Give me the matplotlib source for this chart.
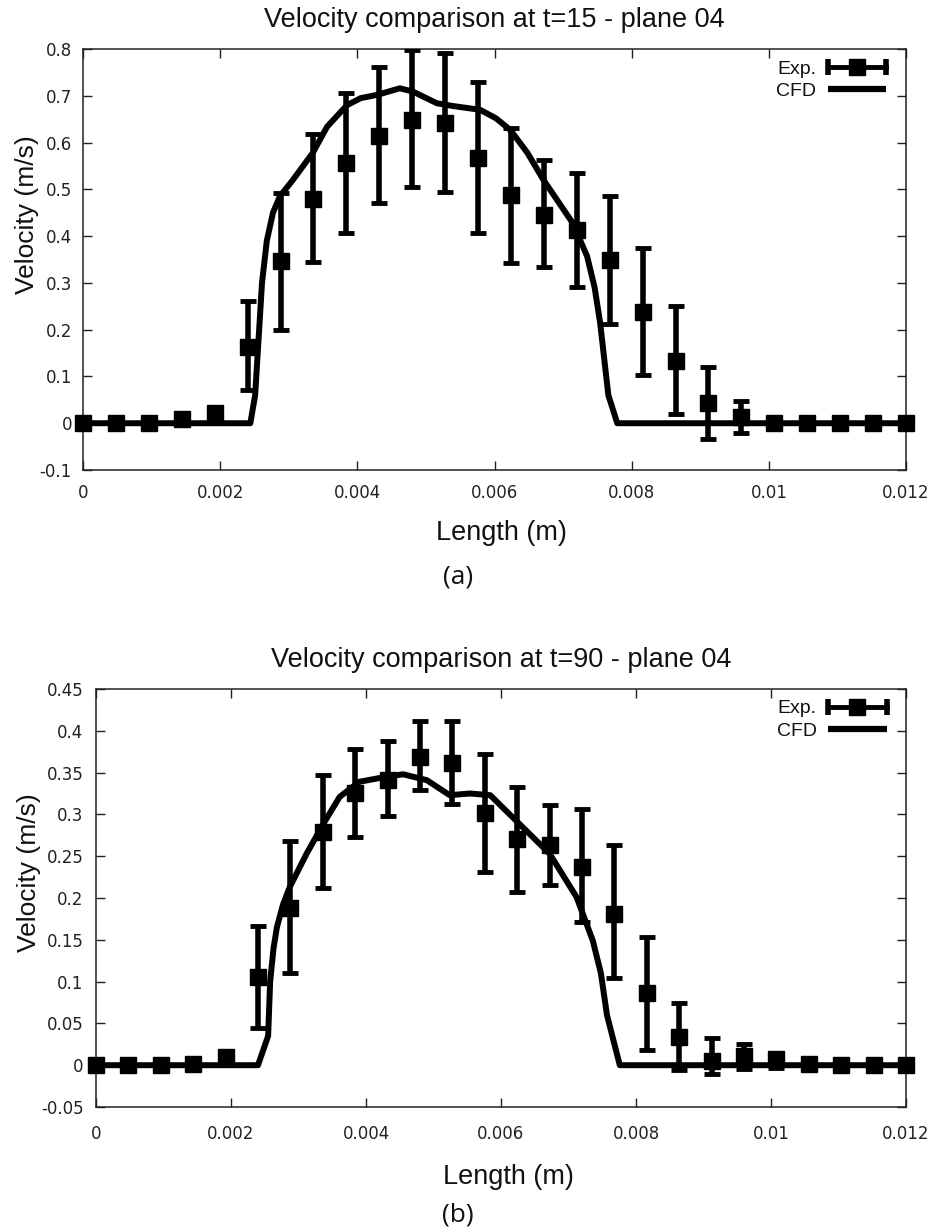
import matplotlib
matplotlib.use("Agg")
import matplotlib.pyplot as plt
import numpy as np
from matplotlib.lines import Line2D
from matplotlib.legend_handler import HandlerLine2D, HandlerTuple

# ---------------- data ----------------
length = [0, 0.00048, 0.00096, 0.00144, 0.00192, 0.0024, 0.00288, 0.00336,
          0.00384, 0.00432, 0.0048, 0.00528, 0.00576, 0.00624, 0.00672,
          0.0072, 0.00768, 0.00816, 0.00864, 0.00912, 0.0096, 0.01008,
          0.01056, 0.01104, 0.01152, 0.012]

# t = 15 experiment
exp15 = [0, 0, 0, 0.008, 0.022, 0.162, 0.347, 0.48, 0.556, 0.615, 0.649,
         0.642, 0.568, 0.487, 0.446, 0.414, 0.348, 0.238, 0.134, 0.043,
         0.013, 0, 0, 0, 0, 0]
exp15_hi = [0, 0, 0, 0.008, 0.022, 0.261, 0.492, 0.619, 0.705, 0.762, 0.798,
            0.792, 0.729, 0.632, 0.563, 0.535, 0.485, 0.375, 0.251, 0.121,
            0.048, 0, 0, 0, 0, 0]
exp15_lo = [0, 0, 0, 0.008, 0.022, 0.07, 0.20, 0.345, 0.407, 0.47, 0.504,
            0.494, 0.407, 0.343, 0.333, 0.292, 0.212, 0.103, 0.02, -0.033,
            -0.02, 0, 0, 0, 0, 0]

# t = 15 CFD
cfd15_x = [0, 0.00244, 0.00251, 0.00256, 0.00261, 0.00268, 0.00277, 0.00287,
           0.00306, 0.00335, 0.00356, 0.00385, 0.00405, 0.00429, 0.00462,
           0.00481, 0.00516, 0.0054, 0.00579, 0.00602, 0.00623, 0.00648,
           0.00671, 0.00714, 0.00735, 0.00746, 0.00754, 0.00766, 0.00779,
           0.012]
cfd15_v = [0, 0, 0.06, 0.18, 0.30, 0.39, 0.45, 0.485, 0.52, 0.578, 0.634,
           0.68, 0.695, 0.702, 0.716, 0.709, 0.684, 0.678, 0.67, 0.652,
           0.627, 0.578, 0.521, 0.428, 0.357, 0.29, 0.215, 0.06, 0, 0]

# t = 90 experiment
exp90 = [0, 0, 0, 0.002, 0.01, 0.105, 0.188, 0.279, 0.326, 0.341, 0.369,
         0.361, 0.302, 0.27, 0.263, 0.237, 0.181, 0.086, 0.034, 0.005,
         0.011, 0.007, 0.001, 0, 0, 0]
exp90_hi = [0, 0, 0, 0.002, 0.01, 0.167, 0.268, 0.347, 0.378, 0.388, 0.412,
            0.412, 0.372, 0.333, 0.311, 0.307, 0.263, 0.153, 0.074, 0.033,
            0.025, 0.014, 0.001, 0, 0, 0]
exp90_lo = [0, 0, 0, 0.002, 0.01, 0.045, 0.11, 0.212, 0.273, 0.298, 0.329,
            0.313, 0.231, 0.207, 0.215, 0.171, 0.104, 0.018, -0.006, -0.01,
            -0.004, -0.003, 0.001, 0, 0, 0]

# t = 90 CFD
cfd90_x = [0, 0.0024, 0.00255, 0.00258, 0.00263, 0.00268, 0.00277, 0.00287,
           0.00312, 0.00337, 0.00361, 0.0039, 0.0043, 0.00455, 0.0049,
           0.00524, 0.00554, 0.00584, 0.00623, 0.00672, 0.00712, 0.00736,
           0.00748, 0.00757, 0.00776, 0.012]
cfd90_v = [0, 0, 0.035, 0.1, 0.14, 0.165, 0.192, 0.213, 0.253, 0.289, 0.321,
           0.339, 0.345, 0.348, 0.341, 0.323, 0.325, 0.323, 0.292, 0.253,
           0.201, 0.149, 0.11, 0.06, 0, 0]

xticks = [0, 0.002, 0.004, 0.006, 0.008, 0.01, 0.012]
xtick_labels = ["0", "0.002", "0.004", "0.006", "0.008", "0.01", "0.012"]
yticks15 = [-0.1, 0, 0.1, 0.2, 0.3, 0.4, 0.5, 0.6, 0.7, 0.8]
ytick15_labels = ["-0.1", "0", "0.1", "0.2", "0.3", "0.4", "0.5", "0.6", "0.7", "0.8"]
yticks90 = [-0.05, 0, 0.05, 0.1, 0.15, 0.2, 0.25, 0.3, 0.35, 0.4, 0.45]
ytick90_labels = ["-0.05", "0", "0.05", "0.1", "0.15", "0.2", "0.25", "0.3",
                  "0.35", "0.4", "0.45"]

titles = ["Velocity comparison at t=15 - plane 04",
          "Velocity comparison at t=90 - plane 04"]
captions = ["(a)", "(b)"]

# ---------------- drawing ----------------
W, H = 934, 1232
fig = plt.figure(figsize=(W / 100, H / 100), dpi=100)
fig.patch.set_facecolor("white")

ax1 = fig.add_axes([83 / W, 1 - 470 / H, 823 / W, 421 / H])
ax2 = fig.add_axes([96 / W, 1 - 1107 / H, 810 / W, 418 / H])

LABEL_FONT = "Liberation Sans"


def draw(ax, exp, hi, lo, cx, cv, yticks, ylabels, title, ylim,
         xpad, ypad, ylab_xy, xlab_xy):
    x = np.array(length)
    v = np.array(exp)
    h = np.array(hi)
    l = np.array(lo)
    m = (h - l) > 1e-9
    ax.errorbar(x[m], v[m], yerr=[v[m] - l[m], h[m] - v[m]], fmt="none",
                ecolor="black", elinewidth=4, capsize=6, capthick=3.5,
                zorder=3)
    ax.plot(x, v, "s", color="black", ms=11.5, clip_on=False, zorder=4)
    ax.plot(cx, cv, "-", color="black", lw=4.3, solid_joinstyle="round",
            solid_capstyle="butt", zorder=5)

    ax.set_xlim(0, 0.012)
    ax.set_ylim(*ylim)
    ax.set_xticks(xticks)
    ax.set_xticklabels(xtick_labels)
    ax.set_yticks(yticks)
    ax.set_yticklabels(ylabels)
    ax.tick_params(axis="both", direction="in", length=6.5, width=1,
                   top=True, right=True, labelsize=12, colors="#222222",
                   labelfontfamily="DejaVu Sans")
    ax.tick_params(axis="x", pad=xpad)
    ax.tick_params(axis="y", pad=ypad)
    for s in ax.spines.values():
        s.set_linewidth(1.1)
        s.set_color("#222222")

    ax.set_title(title, fontsize=19.5, family=LABEL_FONT, pad=16,
                 color="#111111")
    ax.set_ylabel("Velocity (m/s)", fontsize=19, family=LABEL_FONT,
                  color="#111111")
    ax.yaxis.set_label_coords(*ylab_xy)
    ax.set_xlabel("Length (m)", fontsize=19.5, family=LABEL_FONT,
                  color="#111111")
    ax.xaxis.set_label_coords(*xlab_xy)

    capline = Line2D([], [], color="black", lw=3.5, marker="|", ms=11,
                     mew=4)
    sq = Line2D([], [], ls="none", color="black", marker="s", ms=11)
    cfdline = Line2D([], [], color="black", lw=4.5, solid_capstyle="butt")
    leg = ax.legend(handles=[(capline, sq), cfdline], labels=["Exp.", "CFD"],
                    handler_map={capline: HandlerLine2D(numpoints=2,
                                                        marker_pad=0),
                                 sq: HandlerLine2D(numpoints=1),
                                 tuple: HandlerTuple(ndivide=1)},
                    loc="upper right", bbox_to_anchor=(0.976, 0.974),
                    frameon=False, markerfirst=False, borderpad=0,
                    borderaxespad=0, handlelength=3.0, handletextpad=0.6,
                    labelspacing=0.25,
                    prop={"family": LABEL_FONT, "size": 14})
    for t in leg.get_texts():
        t.set_color("#111111")


draw(ax1, exp15, exp15_hi, exp15_lo, cfd15_x, cfd15_v, yticks15,
     ytick15_labels, titles[0], (-0.1, 0.8), 10, 8,
     (-0.054, 0.606), (0.509, -0.119))
draw(ax2, exp90, exp90_hi, exp90_lo, cfd90_x, cfd90_v, yticks90,
     ytick90_labels, titles[1], (-0.05, 0.45), 13, 9,
     (-0.068, 0.56), (0.509, -0.136))

fig.text(0.49, 1 - 577 / H, captions[0], ha="center", va="center",
         fontsize=19, family="Open Sans", color="#111111")
fig.text(0.49, 1 - 1215 / H, captions[1], ha="center", va="center",
         fontsize=19, family="Open Sans", color="#111111")

fig.savefig("out.png", dpi=100, facecolor="white")
